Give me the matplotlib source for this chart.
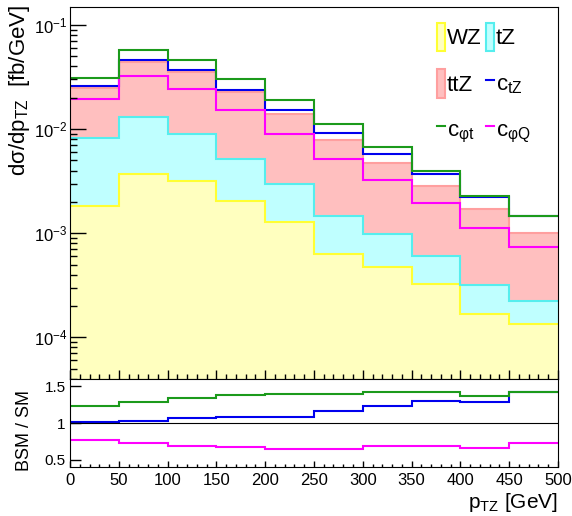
import numpy as np
import matplotlib
matplotlib.use('Agg')
import matplotlib.pyplot as plt
from matplotlib.patches import Patch
from matplotlib.lines import Line2D
from matplotlib.ticker import MultipleLocator, LogLocator, NullFormatter, FixedLocator, FixedFormatter

plt.rcParams['font.family'] = ['Liberation Sans', 'DejaVu Sans']
plt.rcParams['mathtext.default'] = 'regular'

# bin edges in pT(TZ) [GeV]
edges = [0, 50, 100, 150, 200, 250, 300, 350, 400, 450, 500]

# SM contributions, stacked (fb/GeV)
wz = [1.83e-3, 3.72e-3, 3.16e-3, 2.06e-3, 1.29e-3, 6.28e-4, 4.74e-4, 3.25e-4, 1.67e-4, 1.34e-4]
tz = [6.47e-3, 9.28e-3, 5.84e-3, 3.13e-3, 1.67e-3, 8.42e-4, 5.10e-4, 2.80e-4, 1.51e-4, 9.1e-5]
ttz = [1.68e-2, 3.10e-2, 2.66e-2, 1.73e-2, 1.09e-2, 6.43e-3, 3.73e-3, 2.21e-3, 1.38e-3, 7.85e-4]

# BSM predictions (fb/GeV)
c_tz = [2.59e-2, 4.57e-2, 3.69e-2, 2.39e-2, 1.51e-2, 9.27e-3, 5.79e-3, 3.69e-3, 2.22e-3, 1.47e-3]
c_phit = [3.11e-2, 5.75e-2, 4.64e-2, 3.05e-2, 1.91e-2, 1.11e-2, 6.71e-3, 3.97e-3, 2.30e-3, 1.47e-3]
c_phiq = [1.95e-2, 3.26e-2, 2.41e-2, 1.52e-2, 9.0e-3, 5.19e-3, 3.25e-3, 1.94e-3, 1.12e-3, 7.43e-4]

# BSM / SM
r_tz = [1.013, 1.03, 1.064, 1.077, 1.087, 1.17, 1.23, 1.307, 1.293, 1.43]
r_phit = [1.228, 1.293, 1.344, 1.38, 1.39, 1.40, 1.43, 1.417, 1.366, 1.43]
r_phiq = [0.766, 0.733, 0.688, 0.674, 0.646, 0.646, 0.692, 0.688, 0.656, 0.725]

ratio_ticks = [0.5, 1, 1.5]
ratio_ticklabels = ['0.5', '1', '1.5']

# colours
wz_fill, wz_line = '#ffffbf', '#ffff33'
tz_fill, tz_line = '#bfffff', '#55eeee'
ttz_fill, ttz_line = '#ffbfbf', '#ff9f9f'
col_tz, col_phit, col_phiq = '#0000ee', '#1b9a1b', '#ff00ff'
lw = 1.5

fig = plt.figure(figsize=(5.72, 5.16), dpi=100)
ax = fig.add_axes([0.1224, 0.2655, 0.853, 0.7209])
ax2 = fig.add_axes([0.1224, 0.0944, 0.853, 0.1711])

# stacked SM
s1 = np.array(wz)
s2 = s1 + np.array(tz)
s3 = s2 + np.array(ttz)
ax.stairs(s1, edges, baseline=1e-6, fill=True, color=wz_fill, lw=0)
ax.stairs(s2, edges, baseline=s1, fill=True, color=tz_fill, lw=0)
ax.stairs(s3, edges, baseline=s2, fill=True, color=ttz_fill, lw=0)
ax.stairs(s1, edges, baseline=None, color=wz_line, lw=lw)
ax.stairs(s2, edges, baseline=None, color=tz_line, lw=lw)
ax.stairs(s3, edges, baseline=None, color=ttz_line, lw=lw)

# BSM
ax.stairs(c_tz, edges, baseline=None, color=col_tz, lw=lw)
ax.stairs(c_phiq, edges, baseline=None, color=col_phiq, lw=lw)
ax.stairs(c_phit, edges, baseline=None, color=col_phit, lw=lw)

ax.set_xlim(0, 500)
ax.set_yscale('log')
ax.set_ylim(3.97e-5, 0.149)
ax.yaxis.set_major_locator(LogLocator(base=10, numticks=10))
ax.yaxis.set_minor_locator(LogLocator(base=10, subs=np.arange(2, 10), numticks=20))
ax.yaxis.set_minor_formatter(NullFormatter())
ax.xaxis.set_major_locator(MultipleLocator(50))
ax.xaxis.set_minor_locator(MultipleLocator(10))
ax.tick_params(axis='y', which='major', direction='in', length=11.5, width=1, labelsize=12, pad=2)
ax.tick_params(axis='y', which='minor', direction='in', length=5, width=1)
ax.tick_params(axis='x', which='major', direction='in', length=6.5, width=1, labelbottom=False)
ax.tick_params(axis='x', which='minor', direction='in', length=3.5, width=1)
ax.set_ylabel('dσ/dp$_{TZ}$  [fb/GeV]', fontsize=16, loc='top')
ax.yaxis.set_label_coords(-0.078, 1.005)

handles = [Patch(facecolor=wz_fill, edgecolor=wz_line, lw=lw),
           Patch(facecolor=ttz_fill, edgecolor=ttz_line, lw=lw),
           Line2D([], [], color=col_phit, lw=lw),
           Patch(facecolor=tz_fill, edgecolor=tz_line, lw=lw),
           Line2D([], [], color=col_tz, lw=lw),
           Line2D([], [], color=col_phiq, lw=lw)]
labels = ['WZ', 'ttZ', 'c$_{φt}$', 'tZ', 'c$_{tZ}$', 'c$_{φQ}$']
ax.legend(handles, labels, ncol=2, loc='upper left', bbox_to_anchor=(0.752, 0.958),
          frameon=False, fontsize=16, handlelength=0.36, handleheight=1.6,
          handletextpad=0.08, columnspacing=0.2, labelspacing=0.8,
          borderpad=0, borderaxespad=0)

# ratio panel
ax2.stairs(r_tz, edges, baseline=None, color=col_tz, lw=lw)
ax2.stairs(r_phiq, edges, baseline=None, color=col_phiq, lw=lw)
ax2.stairs(r_phit, edges, baseline=None, color=col_phit, lw=lw)
ax2.axhline(1, color='black', lw=0.8)
ax2.set_xlim(0, 500)
ax2.set_ylim(0.4, 1.6)
ax2.yaxis.set_major_locator(FixedLocator(ratio_ticks))
ax2.yaxis.set_major_formatter(FixedFormatter(ratio_ticklabels))
ax2.xaxis.set_major_locator(MultipleLocator(50))
ax2.xaxis.set_minor_locator(MultipleLocator(10))
ax2.tick_params(axis='y', which='major', direction='in', length=8, width=1, labelsize=11, pad=3)
ax2.tick_params(axis='x', which='major', direction='in', length=4, width=1, labelsize=12, pad=4)
ax2.tick_params(axis='x', which='minor', direction='in', length=2, width=1)
ax2.set_xlabel('p$_{TZ}$ [GeV]', fontsize=15, loc='right', labelpad=2)
ax2.set_ylabel('BSM / SM', fontsize=13)
ax2.yaxis.set_label_coords(-0.076, 0.42)

fig.savefig('out.png', dpi=100)
